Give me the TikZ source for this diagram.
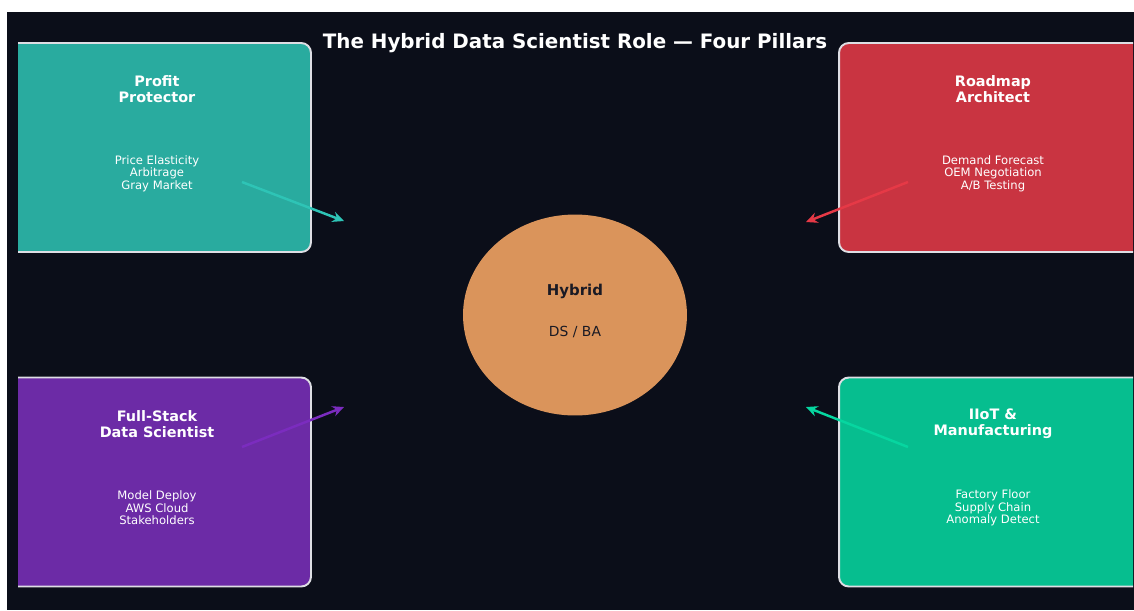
\documentclass[tikz,border=0pt]{standalone}
\usepackage{fontspec}
\setmainfont{DejaVu Sans}
\usetikzlibrary{arrows.meta,shapes.geometric,positioning}

\definecolor{bgdark}{HTML}{0B0E19}
\definecolor{boxedge}{HTML}{DEDEE4}
\definecolor{tealbox}{HTML}{29AB9F}
\definecolor{tealline}{HTML}{2EC4B6}
\definecolor{redbox}{HTML}{C93441}
\definecolor{redline}{HTML}{E63946}
\definecolor{purplebox}{HTML}{6C2BA6}
\definecolor{purpleline}{HTML}{7B2CBF}
\definecolor{greenbox}{HTML}{06BE8F}
\definecolor{greenline}{HTML}{06D6A0}
\definecolor{hubfill}{HTML}{DA945B}
\definecolor{hubtext}{HTML}{1A1A24}

\tikzset{
    pillar/.style={draw=boxedge, line width=1.1pt, rounded corners=5.5pt,
        minimum width=6.16cm, minimum height=4.18cm, inner sep=0pt},
    pillartitle/.style={text=white, align=center,
        font=\bfseries\fontsize{8.2}{9.1}\selectfont},
    pillarinfo/.style={text=white, align=center,
        font=\fontsize{6.6}{7.2}\selectfont},
    link/.style={line width=1.4pt, -{Stealth[length=6.5pt,width=6pt]}}
}

\begin{document}
\begin{tikzpicture}[x=0.02cm, y=-0.02cm]
    \useasboundingbox (0,0) rectangle (1134,610);
    \fill[bgdark] (7,12) rectangle (1134,610);

    \node[text=white, font=\bfseries\fontsize{11.3}{13}\selectfont] (title) at (575,43)
        {The Hybrid Data Scientist Role — Four Pillars};

    % the four pillars, cut off at the plot edges
    \begin{scope}
        \clip (18,12) rectangle (1133,610);
        \node[pillar, fill=tealbox] (profit) at (157,147.5) {};
        \node[pillar, fill=redbox] (roadmap) at (993,147.5) {};
        \node[pillar, fill=purplebox] (fullstack) at (157,482) {};
        \node[pillar, fill=greenbox] (iiot) at (993,482) {};
    \end{scope}

    \node[pillartitle] (profit-t) at (157,89) {Profit\\Protector};
    \node[pillarinfo] (profit-i) at (157,173.5) {Price Elasticity\\Arbitrage\\Gray Market};
    \node[pillartitle] (roadmap-t) at (993,89) {Roadmap\\Architect};
    \node[pillarinfo] (roadmap-i) at (993,173.5) {Demand Forecast\\OEM Negotiation\\A/B Testing};
    \node[pillartitle] (fullstack-t) at (157,424) {Full-Stack\\Data Scientist};
    \node[pillarinfo] (fullstack-i) at (157,508) {Model Deploy\\AWS Cloud\\Stakeholders};
    \node[pillartitle] (iiot-t) at (993,424) {IIoT \&\\Manufacturing};
    \node[pillarinfo] (iiot-i) at (993,508) {Factory Floor\\Supply Chain\\Anomaly Detect};

    % hub
    \node[ellipse, fill=hubfill, minimum width=4.48cm, minimum height=4.02cm,
        inner sep=0pt] (hub) at (575,315) {};
    \node[text=hubtext, font=\bfseries\fontsize{8.5}{10}\selectfont] (hub-t) at (575,291) {Hybrid};
    \node[text=hubtext, font=\fontsize{7.9}{9}\selectfont] (hub-s) at (575,332) {DS / BA};

    % arrows toward the hub
    \coordinate (profit-out) at (242,182);
    \coordinate (profit-in) at (344,221);
    \coordinate (roadmap-out) at (908,182);
    \coordinate (roadmap-in) at (806,222);
    \coordinate (fullstack-out) at (242,447);
    \coordinate (fullstack-in) at (344,407);
    \coordinate (iiot-out) at (908,447);
    \coordinate (iiot-in) at (806,407);
    \draw[link, tealline] (profit-out) -- (profit-in);
    \draw[link, redline] (roadmap-out) -- (roadmap-in);
    \draw[link, purpleline] (fullstack-out) -- (fullstack-in);
    \draw[link, greenline] (iiot-out) -- (iiot-in);
\end{tikzpicture}
\end{document}
